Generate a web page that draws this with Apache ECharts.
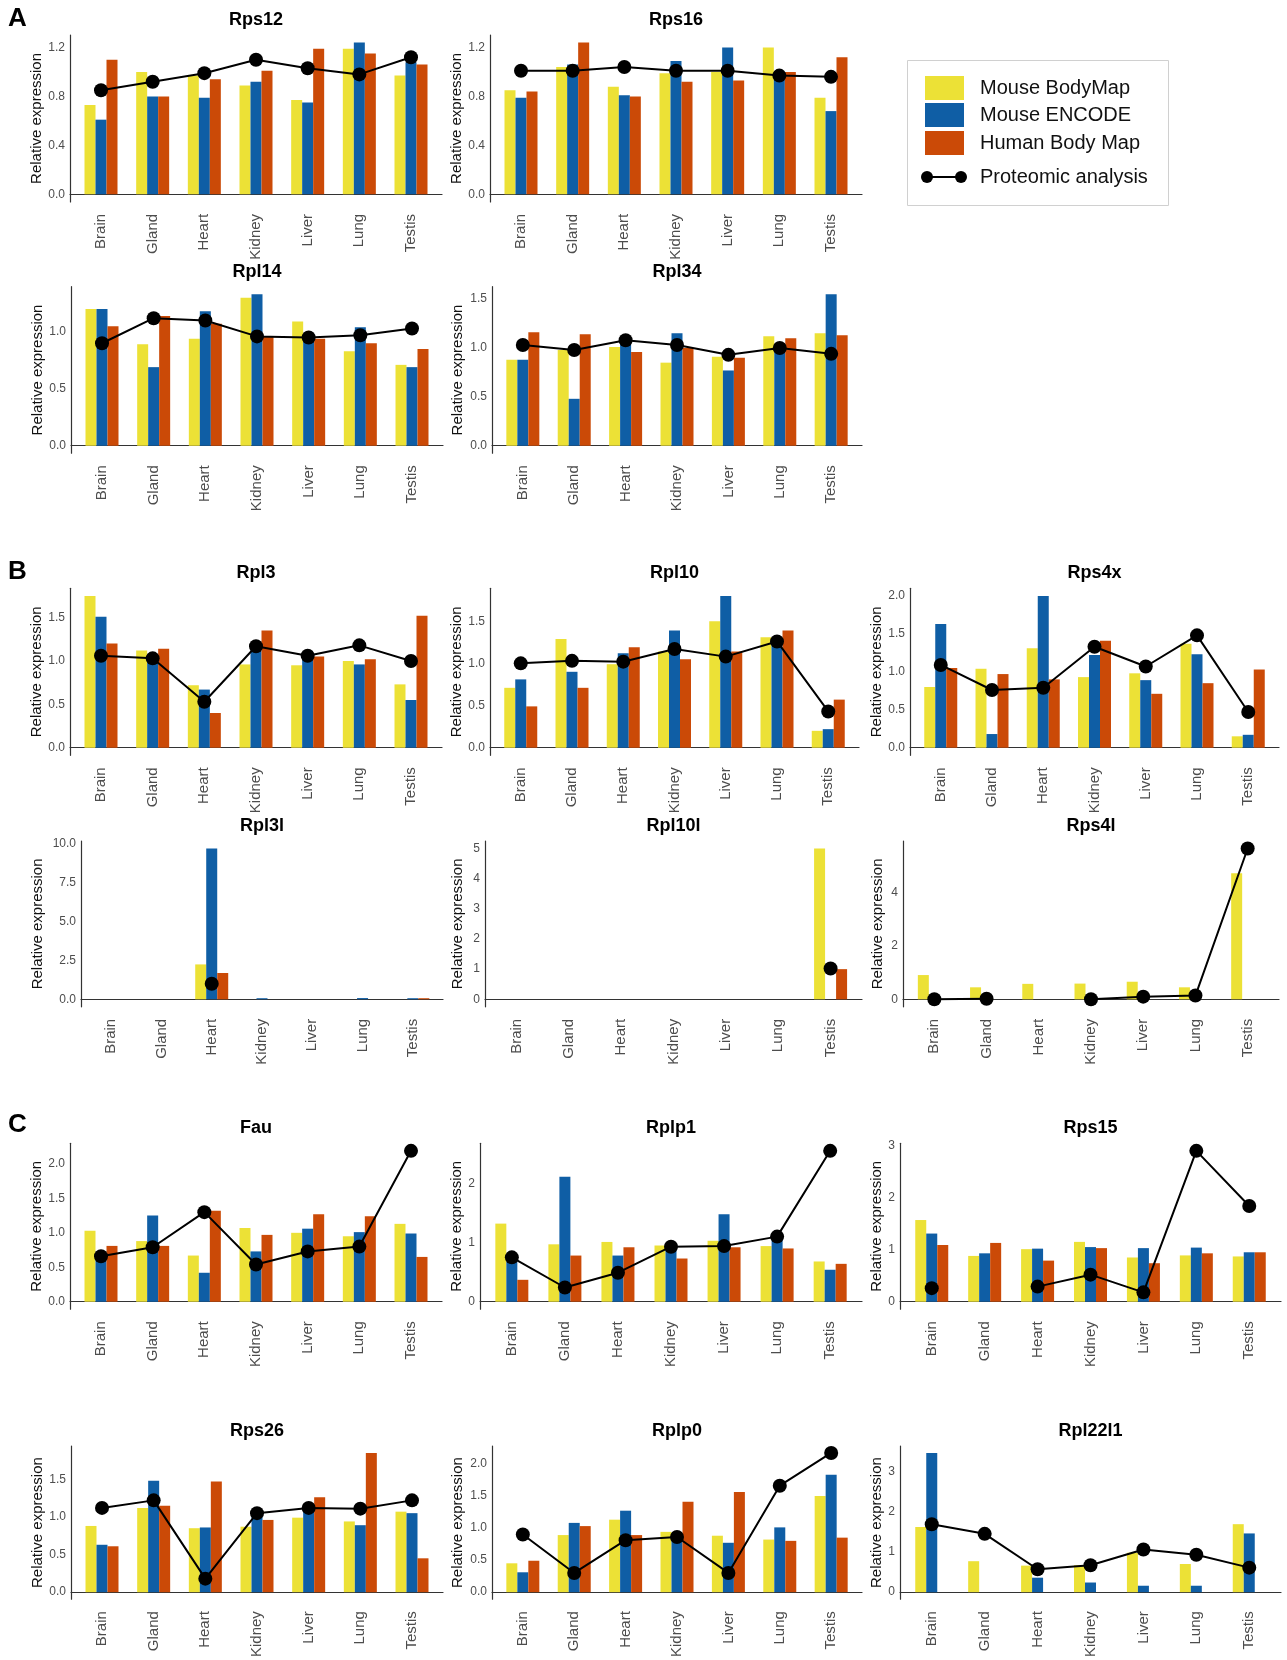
<!DOCTYPE html>
<html>
<head>
<meta charset="utf-8">
<script src="https://cdn.jsdelivr.net/npm/echarts@6/dist/echarts.min.js"></script>
<style>
  html, body { margin: 0; padding: 0; background: #ffffff; }
  #chart { width: 1287px; height: 1660px; }
</style>
</head>
<body>
<div id="chart"></div>
<script>
// Tissues shown on every panel
const tissues = ['Brain', 'Gland', 'Heart', 'Kidney', 'Liver', 'Lung', 'Testis'];

// Relative expression per gene: Mouse BodyMap, Mouse ENCODE, Human Body Map, proteomics
const Rps12_bm  = [0.73, 1.00, 0.97, 0.89, 0.77, 1.19, 0.97];
const Rps12_enc = [0.61, 0.80, 0.79, 0.92, 0.75, 1.24, 1.08];
const Rps12_hbm = [1.10, 0.80, 0.94, 1.01, 1.19, 1.15, 1.06];
const Rps12_pt  = [0.85, 0.92, 0.99, 1.10, 1.03, 0.98, 1.12];

const Rps16_bm  = [0.85, 1.04, 0.88, 0.99, 1.00, 1.20, 0.79];
const Rps16_enc = [0.79, 1.06, 0.81, 1.09, 1.20, 0.99, 0.68];
const Rps16_hbm = [0.84, 1.24, 0.80, 0.92, 0.93, 1.00, 1.12];
const Rps16_pt  = [1.01, 1.01, 1.04, 1.01, 1.01, 0.97, 0.96];

const Rpl14_bm  = [1.20, 0.89, 0.94, 1.30, 1.09, 0.83, 0.71];
const Rpl14_enc = [1.20, 0.69, 1.18, 1.33, 0.95, 1.04, 0.69];
const Rpl14_hbm = [1.05, 1.14, 1.07, 0.96, 0.94, 0.90, 0.85];
const Rpl14_pt  = [0.90, 1.12, 1.10, 0.96, 0.95, 0.97, 1.03];

const Rpl34_bm  = [0.88, 0.98, 1.01, 0.85, 0.91, 1.12, 1.15];
const Rpl34_enc = [0.88, 0.48, 1.07, 1.15, 0.77, 1.03, 1.55];
const Rpl34_hbm = [1.16, 1.14, 0.96, 1.00, 0.90, 1.10, 1.13];
const Rpl34_pt  = [1.03, 0.98, 1.08, 1.03, 0.93, 1.00, 0.94];

const Rpl3_bm  = [1.75, 1.12, 0.72, 0.96, 0.95, 1.00, 0.73];
const Rpl3_enc = [1.51, 1.08, 0.67, 1.12, 1.03, 0.96, 0.55];
const Rpl3_hbm = [1.20, 1.14, 0.40, 1.35, 1.05, 1.02, 1.52];
const Rpl3_pt  = [1.06, 1.03, 0.53, 1.17, 1.06, 1.18, 1.00];

const Rpl10_bm  = [0.71, 1.29, 0.99, 1.14, 1.50, 1.31, 0.20];
const Rpl10_enc = [0.81, 0.90, 1.12, 1.39, 1.80, 1.24, 0.22];
const Rpl10_hbm = [0.49, 0.71, 1.19, 1.05, 1.14, 1.39, 0.57];
const Rpl10_pt  = [1.00, 1.03, 1.02, 1.17, 1.08, 1.26, 0.43];

const Rps4x_bm  = [0.80, 1.04, 1.31, 0.93, 0.98, 1.37, 0.15];
const Rps4x_enc = [1.63, 0.18, 2.00, 1.22, 0.89, 1.23, 0.17];
const Rps4x_hbm = [1.05, 0.97, 0.90, 1.41, 0.71, 0.85, 1.03];
const Rps4x_pt  = [1.09, 0.76, 0.79, 1.33, 1.07, 1.48, 0.47];

const Rpl3l_bm  = [0, 0, 2.24, 0, 0, 0, 0];
const Rpl3l_enc = [0, 0, 9.68, 0.07, 0, 0.08, 0.07];
const Rpl3l_hbm = [0, 0, 1.69, 0, 0, 0, 0.07];
const Rpl3l_pt  = [null, null, 1.00, null, null, null, null];

const Rpl10l_bm  = [0, 0, 0, 0, 0, 0, 5.00];
const Rpl10l_enc = [0, 0, 0, 0, 0, 0, 0];
const Rpl10l_hbm = [0, 0, 0, 0, 0, 0, 1.00];
const Rpl10l_pt  = [null, null, null, null, null, null, 1.02];

const Rps4l_bm  = [0.91, 0.45, 0.58, 0.59, 0.66, 0.45, 4.73];
const Rps4l_enc = [0, 0, 0, 0, 0, 0, 0];
const Rps4l_hbm = [0, 0, 0, 0, 0, 0, 0];
const Rps4l_pt  = [0.00, 0.02, null, 0.00, 0.10, 0.14, 5.66];

const Fau_bm  = [1.03, 0.88, 0.67, 1.07, 1.00, 0.95, 1.13];
const Fau_enc = [0.66, 1.25, 0.42, 0.73, 1.06, 1.01, 0.99];
const Fau_hbm = [0.81, 0.81, 1.32, 0.97, 1.27, 1.24, 0.65];
const Fau_pt  = [0.66, 0.79, 1.30, 0.54, 0.73, 0.80, 2.19];

const Rplp1_bm  = [1.32, 0.97, 1.01, 0.95, 1.03, 0.94, 0.68];
const Rplp1_enc = [0.68, 2.11, 0.78, 0.92, 1.48, 1.05, 0.54];
const Rplp1_hbm = [0.37, 0.78, 0.92, 0.73, 0.92, 0.90, 0.64];
const Rplp1_pt  = [0.75, 0.24, 0.49, 0.93, 0.94, 1.10, 2.55];

const Rps15_bm  = [1.57, 0.88, 1.01, 1.15, 0.85, 0.89, 0.87];
const Rps15_enc = [1.31, 0.93, 1.02, 1.05, 1.03, 1.04, 0.95];
const Rps15_hbm = [1.09, 1.13, 0.79, 1.03, 0.74, 0.93, 0.95];
const Rps15_pt  = [0.26, null, 0.29, 0.52, 0.18, 2.90, 1.84];

const Rps26_bm  = [0.88, 1.12, 0.85, 0.87, 0.99, 0.94, 1.07];
const Rps26_enc = [0.63, 1.48, 0.86, 1.00, 1.08, 0.89, 1.05];
const Rps26_hbm = [0.61, 1.15, 1.47, 0.96, 1.26, 1.85, 0.45];
const Rps26_pt  = [1.12, 1.22, 0.18, 1.05, 1.12, 1.11, 1.22];

const Rplp0_bm  = [0.45, 0.89, 1.13, 0.94, 0.88, 0.82, 1.50];
const Rplp0_enc = [0.31, 1.08, 1.27, 0.88, 0.77, 1.01, 1.83];
const Rplp0_hbm = [0.49, 1.03, 0.89, 1.41, 1.56, 0.80, 0.85];
const Rplp0_pt  = [0.90, 0.30, 0.81, 0.86, 0.30, 1.66, 2.17];

const Rpl22l1_bm  = [1.62, 0.77, 0.66, 0.67, 0.98, 0.70, 1.69];
const Rpl22l1_enc = [3.46, null, 0.36, 0.24, 0.16, 0.16, 1.46];
const Rpl22l1_hbm = [null, null, null, null, null, null, null];
const Rpl22l1_pt  = [1.69, 1.45, 0.57, 0.67, 1.06, 0.93, 0.61];

// y-axis tick labels for each panel
const ticks_04   = [0, 0.4, 0.8, 1.2];
const ticks_05a  = [0, 0.5, 1.0];
const ticks_05b  = [0, 0.5, 1.0, 1.5];
const ticks_05c  = [0, 0.5, 1.0, 1.5, 2.0];
const ticks_25   = [0, 2.5, 5.0, 7.5, 10.0];
const ticks_1to5 = [0, 1, 2, 3, 4, 5];
const ticks_2s   = [0, 2, 4];
const ticks_1to2 = [0, 1, 2];
const ticks_1to3 = [0, 1, 2, 3];

// Gene panels, in reading order
const panels = [
  { gene: 'Rps12',   bm: Rps12_bm,   enc: Rps12_enc,   hbm: Rps12_hbm,   pt: Rps12_pt,   ticks: ticks_04,   dec: 1 },
  { gene: 'Rps16',   bm: Rps16_bm,   enc: Rps16_enc,   hbm: Rps16_hbm,   pt: Rps16_pt,   ticks: ticks_04,   dec: 1 },
  { gene: 'Rpl14',   bm: Rpl14_bm,   enc: Rpl14_enc,   hbm: Rpl14_hbm,   pt: Rpl14_pt,   ticks: ticks_05a,  dec: 1 },
  { gene: 'Rpl34',   bm: Rpl34_bm,   enc: Rpl34_enc,   hbm: Rpl34_hbm,   pt: Rpl34_pt,   ticks: ticks_05b,  dec: 1 },
  { gene: 'Rpl3',    bm: Rpl3_bm,    enc: Rpl3_enc,    hbm: Rpl3_hbm,    pt: Rpl3_pt,    ticks: ticks_05b,  dec: 1 },
  { gene: 'Rpl10',   bm: Rpl10_bm,   enc: Rpl10_enc,   hbm: Rpl10_hbm,   pt: Rpl10_pt,   ticks: ticks_05b,  dec: 1 },
  { gene: 'Rps4x',   bm: Rps4x_bm,   enc: Rps4x_enc,   hbm: Rps4x_hbm,   pt: Rps4x_pt,   ticks: ticks_05c,  dec: 1 },
  { gene: 'Rpl3l',   bm: Rpl3l_bm,   enc: Rpl3l_enc,   hbm: Rpl3l_hbm,   pt: Rpl3l_pt,   ticks: ticks_25,   dec: 1 },
  { gene: 'Rpl10l',  bm: Rpl10l_bm,  enc: Rpl10l_enc,  hbm: Rpl10l_hbm,  pt: Rpl10l_pt,  ticks: ticks_1to5, dec: 0 },
  { gene: 'Rps4l',   bm: Rps4l_bm,   enc: Rps4l_enc,   hbm: Rps4l_hbm,   pt: Rps4l_pt,   ticks: ticks_2s,   dec: 0 },
  { gene: 'Fau',     bm: Fau_bm,     enc: Fau_enc,     hbm: Fau_hbm,     pt: Fau_pt,     ticks: ticks_05c,  dec: 1 },
  { gene: 'Rplp1',   bm: Rplp1_bm,   enc: Rplp1_enc,   hbm: Rplp1_hbm,   pt: Rplp1_pt,   ticks: ticks_1to2, dec: 0 },
  { gene: 'Rps15',   bm: Rps15_bm,   enc: Rps15_enc,   hbm: Rps15_hbm,   pt: Rps15_pt,   ticks: ticks_1to3, dec: 0 },
  { gene: 'Rps26',   bm: Rps26_bm,   enc: Rps26_enc,   hbm: Rps26_hbm,   pt: Rps26_pt,   ticks: ticks_05b,  dec: 1 },
  { gene: 'Rplp0',   bm: Rplp0_bm,   enc: Rplp0_enc,   hbm: Rplp0_hbm,   pt: Rplp0_pt,   ticks: ticks_05c,  dec: 1 },
  { gene: 'Rpl22l1', bm: Rpl22l1_bm, enc: Rpl22l1_enc, hbm: Rpl22l1_hbm, pt: Rpl22l1_pt, ticks: ticks_1to3, dec: 0 }
];

// Panel placement: plot left/right edge, plot top, zero line, y-title centre
const rowA1 = { top: 35,    zero: 194.3 };
const rowA2 = { top: 286.7, zero: 445.7 };
const rowB1 = { top: 588.3, zero: 747.7 };
const rowB2 = { top: 841,   zero: 999.3 };
const rowC1 = { top: 1143.3, zero: 1301.7 };
const rowC2 = { top: 1446,  zero: 1604.3 };
const col1T = 38, col2T = 458, col3T = 878;

const layout = [
  { l: 70,  r: 442,  row: rowA1, tx: col1T },
  { l: 490, r: 862,  row: rowA1, tx: col2T },
  { l: 71,  r: 443,  row: rowA2, tx: col1T },
  { l: 492, r: 862,  row: rowA2, tx: col2T },
  { l: 70,  r: 442,  row: rowB1, tx: col1T },
  { l: 490, r: 859,  row: rowB1, tx: col2T },
  { l: 910, r: 1279, row: rowB1, tx: col3T },
  { l: 81,  r: 443,  row: rowB2, tx: col1T },
  { l: 485, r: 862,  row: rowB2, tx: col2T },
  { l: 903, r: 1279, row: rowB2, tx: col3T },
  { l: 70,  r: 442,  row: rowC1, tx: col1T },
  { l: 480, r: 862,  row: rowC1, tx: col2T },
  { l: 900, r: 1281, row: rowC1, tx: col3T },
  { l: 71,  r: 443,  row: rowC2, tx: col1T },
  { l: 492, r: 862,  row: rowC2, tx: col2T },
  { l: 900, r: 1281, row: rowC2, tx: col3T }
];

const COLORS = { bm: '#ECE136', enc: '#0F5EA5', hbm: '#CB4A07', pt: '#000000' };
const FONT = '"Liberation Sans", Arial, Helvetica, sans-serif';
const catPos = tissues.map((t, i) => i + 1);

const grids = [], xAxes = [], yAxes = [], series = [], graphics = [];

panels.forEach((p, i) => {
  const lay = layout[i];
  const span = lay.row.zero - lay.row.top;
  // 5% expansion above and below the data range
  const all = [].concat(p.bm, p.enc, p.hbm, p.pt).filter(v => v !== null);
  const dmax = Math.max.apply(null, all);
  const yMin = -0.05 * dmax, yMax = 1.05 * dmax;

  grids.push({ left: lay.l, width: lay.r - lay.l, top: lay.row.top, height: span * 1.1 / 1.05 });

  xAxes.push({
    type: 'value', gridIndex: i, min: 0.4, max: 7.6,
    axisLine: { show: true, onZero: true, lineStyle: { color: '#333333', width: 1.2 } },
    axisTick: { show: false },
    splitLine: { show: false },
    axisLabel: {
      customValues: catPos,
      formatter: v => tissues[Math.round(v) - 1],
      rotate: 90, margin: 12, fontSize: 15, color: '#4d4d4d', fontFamily: FONT
    }
  });

  yAxes.push({
    type: 'value', gridIndex: i, min: yMin, max: yMax,
    name: 'Relative expression', nameLocation: 'middle', nameRotate: 90,
    nameGap: lay.l - lay.tx - 8,
    nameTextStyle: { fontSize: 15, color: '#111111', fontFamily: FONT, lineHeight: 16 },
    axisLine: { show: true, lineStyle: { color: '#333333', width: 1.2 } },
    axisTick: { show: false },
    splitLine: { show: false },
    axisLabel: {
      customValues: p.ticks,
      formatter: v => Number(v).toFixed(p.dec),
      margin: 5, fontSize: 12, color: '#4d4d4d', fontFamily: FONT
    }
  });

  const pairs = arr => arr.map((v, k) => [catPos[k], v]);
  [['Mouse BodyMap', p.bm, COLORS.bm], ['Mouse ENCODE', p.enc, COLORS.enc], ['Human Body Map', p.hbm, COLORS.hbm]]
    .forEach(([name, arr, col]) => {
      series.push({
        type: 'bar', name, xAxisIndex: i, yAxisIndex: i,
        data: pairs(arr), barWidth: 11, barGap: '0%',
        itemStyle: { color: col }, z: 2
      });
    });

  series.push({
    type: 'line', name: 'Proteomic analysis', xAxisIndex: i, yAxisIndex: i,
    data: pairs(p.pt), connectNulls: false,
    symbol: 'circle', symbolSize: 14, showAllSymbol: true,
    lineStyle: { color: COLORS.pt, width: 2 },
    itemStyle: { color: COLORS.pt }, z: 5
  });

  // gene name above its panel
  graphics.push({
    type: 'text', x: (lay.l + lay.r) / 2, y: lay.row.top - 15,
    style: { text: p.gene, font: 'bold 18px ' + FONT, fill: '#000', align: 'center', verticalAlign: 'middle' }
  });
});

// section letters
[['A', 19], ['B', 571.5], ['C', 1124.6]].forEach(([t, y]) => {
  graphics.push({ type: 'text', x: 8, y, style: { text: t, font: 'bold 26px ' + FONT, fill: '#000', verticalAlign: 'middle' } });
});

// legend box
const legendItems = [
  { label: 'Mouse BodyMap', color: COLORS.bm, y: 76 },
  { label: 'Mouse ENCODE', color: COLORS.enc, y: 103 },
  { label: 'Human Body Map', color: COLORS.hbm, y: 131 }
];
graphics.push({ type: 'rect', shape: { x: 907.5, y: 60.5, width: 261, height: 145 }, style: { fill: '#fff', stroke: '#d0d0d0', lineWidth: 1 }, z: 1 });
legendItems.forEach(it => {
  graphics.push({ type: 'rect', shape: { x: 925, y: it.y, width: 39, height: 24 }, style: { fill: it.color }, z: 2 });
  graphics.push({ type: 'text', x: 980, y: it.y + 12, style: { text: it.label, font: '20px ' + FONT, fill: '#111', verticalAlign: 'middle' }, z: 2 });
});
graphics.push({ type: 'line', shape: { x1: 927, y1: 177, x2: 961, y2: 177 }, style: { stroke: '#000', lineWidth: 2 }, z: 2 });
graphics.push({ type: 'circle', shape: { cx: 927, cy: 177, r: 6 }, style: { fill: '#000' }, z: 3 });
graphics.push({ type: 'circle', shape: { cx: 961, cy: 177, r: 6 }, style: { fill: '#000' }, z: 3 });
graphics.push({ type: 'text', x: 980, y: 177, style: { text: 'Proteomic analysis', font: '20px ' + FONT, fill: '#111', verticalAlign: 'middle' }, z: 2 });

const chart = echarts.init(document.getElementById('chart'), null, { renderer: 'canvas' });
chart.setOption({
  animation: false,
  backgroundColor: '#ffffff',
  textStyle: { fontFamily: FONT },
  grid: grids,
  xAxis: xAxes,
  yAxis: yAxes,
  series: series,
  graphic: graphics
});
</script>
</body>
</html>
